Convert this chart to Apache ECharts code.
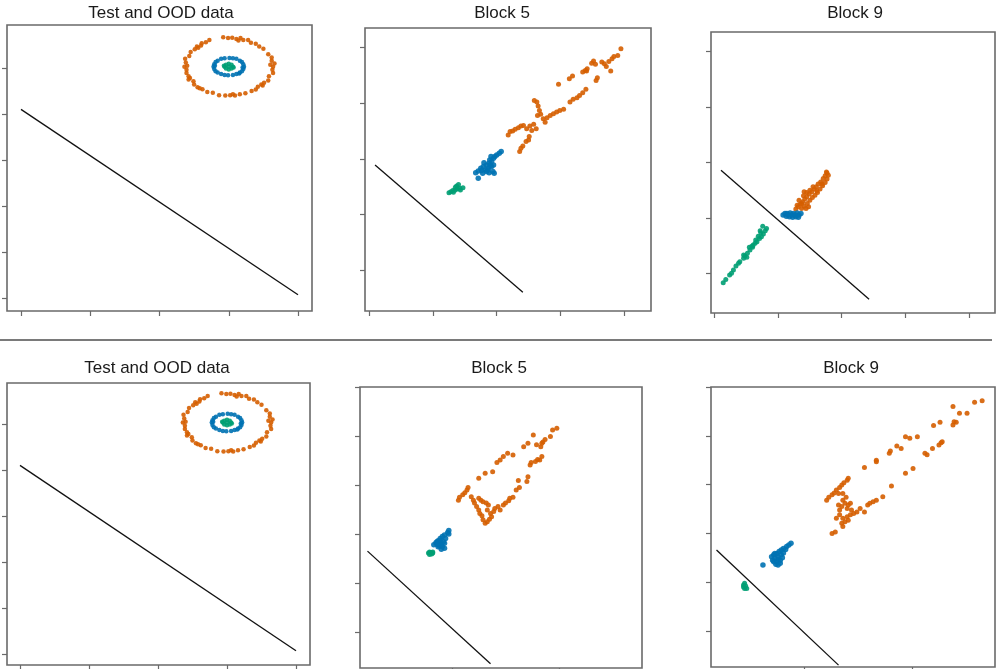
<!DOCTYPE html>
<html lang="en">
<head>
  <meta charset="UTF-8">
  <title>Test and OOD data / Block 5 / Block 9</title>
  <script src="https://cdn.jsdelivr.net/npm/echarts@6/dist/echarts.min.js"></script>
  <style>
    * { padding: 0; margin: 0; }
    #box { width: 996px; height: 669px; background: #fff; }
  </style>
</head>
<body>
  <div id="box"></div>
  <script>
    // colours: orange = OOD, blue = test, green = centre class
    var ORANGE = '#D55E00', BLUE = '#0072B2', GREEN = '#009E73';

    var titles = ['Test and OOD data', 'Block 5', 'Block 9', 'Test and OOD data', 'Block 5', 'Block 9'];

    // ---- Test and OOD data (both rows look the same) ----
    var testOrange = [
      [2.45, 5.35], [2.43, 5.26], [2.37, 5.20], [2.38, 5.12], [2.36, 5.03], [2.39, 4.96], [2.39, 4.89],
      [2.42, 4.82], [2.42, 4.75], [2.49, 4.71], [2.50, 4.64], [2.51, 5.41], [2.54, 5.47], [2.60, 5.49],
      [2.61, 5.54], [2.67, 5.56], [2.72, 5.61], [2.92, 5.67], [2.99, 5.65], [3.05, 5.66], [3.11, 5.63],
      [3.17, 5.65], [3.21, 5.61], [3.28, 5.61], [3.32, 5.55], [3.39, 5.53], [3.44, 5.47], [3.50, 5.42],
      [3.57, 5.30], [3.62, 5.23], [3.62, 5.16], [3.66, 5.10], [3.64, 5.03], [3.63, 4.96], [3.64, 4.89],
      [3.58, 4.82], [3.57, 4.73], [3.51, 4.68], [3.49, 4.62], [3.42, 4.59], [3.39, 4.53], [3.33, 4.50],
      [3.24, 4.45], [3.16, 4.43], [3.09, 4.40], [3.02, 4.41], [2.95, 4.40], [2.86, 4.41], [2.77, 4.46],
      [2.69, 4.48], [2.62, 4.54], [2.55, 4.58], [2.40, 5.05], [2.44, 4.78], [3.60, 5.07], [3.14, 5.60],
      [2.56, 5.44], [3.47, 4.64], [3.06, 4.43], [2.58, 4.56]
    ];
    var testBlue = [
      [3.22, 5.03], [3.21, 5.08], [3.19, 5.13], [3.16, 5.16], [3.11, 5.20], [3.06, 5.21], [2.94, 5.21],
      [2.89, 5.20], [2.84, 5.16], [2.81, 5.13], [2.79, 5.08], [2.78, 5.03], [2.79, 4.98], [2.81, 4.93],
      [2.84, 4.90], [2.89, 4.87], [2.94, 4.85], [3.06, 4.85], [3.11, 4.87], [3.16, 4.90], [3.19, 4.93],
      [3.21, 4.98], [3.01, 5.22], [2.99, 4.84], [3.20, 5.01], [2.80, 5.05], [3.15, 4.88]
    ];
    var testGreen = [
      [3.00, 5.03], [3.06, 5.03], [2.94, 5.03], [3.00, 5.09], [3.00, 4.97], [3.04, 5.07],
      [2.96, 5.07], [3.04, 4.99], [2.96, 4.99], [3.07, 5.01], [2.93, 5.05]
    ];
    var testLine = [[0.0, 4.1], [4.0, 0.07]];

    // ---- Block 5, top row ----
    var b5aOrange = [
      [2.36, 2.13], [2.38, 2.19], [2.41, 2.23], [2.46, 2.31], [2.50, 2.34], [2.51, 2.40], [2.18, 2.43],
      [2.21, 2.49], [2.25, 2.50], [2.29, 2.53], [2.34, 2.56], [2.38, 2.59], [2.42, 2.60], [2.47, 2.54],
      [2.52, 2.59], [2.58, 2.62], [2.62, 2.54], [2.55, 2.51], [2.59, 3.05], [2.63, 3.02], [2.65, 2.95],
      [2.67, 2.87], [2.69, 2.80], [2.64, 2.78], [2.73, 2.72], [2.79, 2.74], [2.84, 2.78], [2.89, 2.81],
      [2.94, 2.84], [2.99, 2.87], [3.05, 2.89], [2.76, 2.66], [3.15, 3.02], [3.20, 3.07], [3.26, 3.10],
      [3.30, 3.14], [3.35, 3.19], [3.40, 3.25], [3.56, 3.41], [3.58, 3.46], [2.97, 3.34], [3.14, 3.44],
      [3.19, 3.49], [3.35, 3.56], [3.39, 3.59], [3.42, 3.62], [3.49, 3.72], [3.52, 3.76], [3.55, 3.70],
      [3.65, 3.74], [3.69, 3.71], [3.72, 3.66], [3.79, 3.58], [3.81, 3.80], [3.84, 3.84], [3.90, 3.86],
      [3.95, 3.98], [3.76, 3.75], [3.41, 3.58]
    ];
    var b5aBlue = [
      [1.67, 1.75], [1.71, 1.78], [1.75, 1.83], [1.79, 1.86], [1.82, 1.80], [1.84, 1.77], [1.88, 1.75],
      [1.94, 1.77], [1.96, 1.74], [1.84, 1.89], [1.88, 1.92], [1.92, 1.95], [1.95, 2.01], [1.97, 2.04],
      [2.00, 2.07], [2.04, 2.10], [2.07, 2.13], [1.91, 2.04], [1.87, 1.83], [1.78, 1.74], [1.71, 1.65],
      [1.92, 1.86], [1.80, 1.93], [1.95, 1.89], [1.86, 1.80], [1.90, 1.88], [1.76, 1.79], [1.89, 1.98]
    ];
    var b5aGreen = [
      [1.25, 1.39], [1.28, 1.41], [1.31, 1.43], [1.35, 1.44], [1.38, 1.46], [1.42, 1.47],
      [1.47, 1.48], [1.40, 1.54], [1.37, 1.51], [1.32, 1.40], [1.43, 1.44], [1.35, 1.49]
    ];
    var b5aLine = [[0.09, 1.89], [2.41, -0.40]];

    // ---- Block 9, top row ----
    var b9aOrange = [
      [1.28, 1.16], [1.32, 1.20], [1.35, 1.25], [1.39, 1.29], [1.42, 1.34], [1.45, 1.38], [1.49, 1.43],
      [1.53, 1.47], [1.57, 1.52], [1.60, 1.56], [1.63, 1.61], [1.67, 1.65], [1.71, 1.71], [1.74, 1.76],
      [1.77, 1.81], [1.76, 1.83], [1.37, 1.17], [1.41, 1.21], [1.46, 1.26], [1.50, 1.32], [1.54, 1.37],
      [1.58, 1.41], [1.62, 1.46], [1.66, 1.52], [1.70, 1.58], [1.74, 1.64], [1.77, 1.70], [1.33, 1.32],
      [1.40, 1.40], [1.45, 1.46], [1.50, 1.50], [1.55, 1.56], [1.30, 1.23], [1.37, 1.26], [1.44, 1.17],
      [1.48, 1.20], [1.61, 1.49], [1.69, 1.61], [1.79, 1.77], [1.41, 1.47]
    ];
    var b9aBlue = [
      [1.08, 1.05], [1.13, 1.03], [1.18, 1.02], [1.23, 1.01], [1.28, 1.02], [1.33, 1.05], [1.36, 1.08],
      [1.30, 1.09], [1.24, 1.08], [1.19, 1.09], [1.14, 1.08], [1.11, 1.08], [1.22, 1.05], [1.27, 1.05],
      [1.16, 1.05], [1.32, 1.01]
    ];
    var b9aGreen = [
      [0.14, -0.17], [0.18, -0.11], [0.24, -0.03], [0.30, 0.06], [0.34, 0.13], [0.40, 0.21], [0.46, 0.27],
      [0.48, 0.31], [0.52, 0.36], [0.56, 0.42], [0.60, 0.47], [0.64, 0.54], [0.67, 0.57], [0.71, 0.63],
      [0.74, 0.66], [0.77, 0.71], [0.72, 0.77], [0.80, 0.77], [0.76, 0.85], [0.69, 0.67], [0.61, 0.51],
      [0.55, 0.47], [0.46, 0.33], [0.51, 0.29], [0.59, 0.49], [0.65, 0.60], [0.73, 0.73], [0.82, 0.81],
      [0.38, 0.18], [0.27, 0.00]
    ];
    var b9aLine = [[0.105, 1.86], [2.43, -0.47]];

    // ---- Block 5, bottom row ----
    var b5bOrange = [
      [1.06, 2.69], [1.07, 2.75], [1.10, 2.80], [1.12, 2.84], [1.14, 2.90], [1.15, 2.95], [1.18, 2.76],
      [1.20, 2.69], [1.21, 2.63], [1.23, 2.56], [1.25, 2.49], [1.26, 2.42], [1.28, 2.37], [1.29, 2.29],
      [1.31, 2.22], [1.33, 2.25], [1.25, 2.73], [1.27, 2.69], [1.29, 2.66], [1.32, 2.63], [1.34, 2.59],
      [1.33, 2.49], [1.36, 2.42], [1.37, 2.35], [1.35, 2.30], [1.39, 2.46], [1.40, 2.52], [1.43, 2.56],
      [1.45, 2.49], [1.48, 2.59], [1.50, 2.63], [1.53, 2.68], [1.54, 2.73], [1.57, 2.75], [1.60, 2.90],
      [1.63, 2.95], [1.62, 3.09], [1.70, 3.07], [1.71, 3.17], [1.73, 3.41], [1.74, 3.46], [1.78, 3.48],
      [1.80, 3.52], [1.82, 3.51], [1.84, 3.58], [1.25, 3.14], [1.31, 3.24], [1.38, 3.27], [1.42, 3.46],
      [1.45, 3.51], [1.48, 3.58], [1.52, 3.65], [1.57, 3.61], [1.67, 3.78], [1.71, 3.85], [1.76, 4.02],
      [1.79, 3.82], [1.83, 3.78], [1.85, 3.88], [1.87, 3.93], [1.92, 3.99], [1.94, 4.12], [1.98, 4.16],
      [1.84, 3.85]
    ];
    var b5bBlue = [
      [0.83, 1.78], [0.85, 1.82], [0.87, 1.86], [0.89, 1.91], [0.91, 1.95], [0.93, 1.98], [0.96, 2.03],
      [0.97, 2.07], [0.89, 1.81], [0.91, 1.74], [0.93, 1.71], [0.90, 1.69], [0.88, 1.76], [0.86, 1.84],
      [0.94, 1.91], [0.92, 1.84], [0.89, 1.86], [0.97, 2.00], [0.87, 1.74], [0.93, 1.81], [0.90, 1.78],
      [0.86, 1.79]
    ];
    var b5bGreen = [
      [0.78, 1.61], [0.80, 1.62], [0.82, 1.61], [0.79, 1.58], [0.81, 1.59], [0.79, 1.63], [0.82, 1.63]
    ];
    var b5bLine = [[0.21, 1.65], [1.36, -0.65]];

    // ---- Block 9, bottom row ----
    var b9bOrange = [
      [1.21, 2.68], [1.23, 2.74], [1.26, 2.79], [1.28, 2.83], [1.30, 2.89], [1.33, 2.94], [1.35, 2.99],
      [1.37, 3.04], [1.40, 3.09], [1.41, 3.13], [1.32, 2.58], [1.33, 2.48], [1.35, 2.55], [1.36, 2.68],
      [1.38, 2.62], [1.40, 2.51], [1.41, 2.58], [1.43, 2.62], [1.44, 2.48], [1.30, 2.31], [1.33, 2.38],
      [1.36, 2.31], [1.40, 2.34], [1.43, 2.38], [1.46, 2.41], [1.35, 2.21], [1.38, 2.24], [1.41, 2.27],
      [1.26, 2.00], [1.29, 2.03], [1.36, 2.14], [1.32, 2.82], [1.36, 2.82], [1.39, 2.74], [1.49, 2.44],
      [1.52, 2.51], [1.56, 2.44], [1.59, 2.58], [1.61, 2.62], [1.64, 2.65], [1.67, 2.68], [1.73, 2.75],
      [1.81, 2.97], [1.94, 3.23], [2.01, 3.33], [2.12, 3.64], [2.14, 3.61], [2.19, 3.74], [2.25, 3.81],
      [2.27, 3.86], [2.28, 3.88], [1.56, 3.35], [1.67, 3.50], [1.67, 3.47], [1.79, 3.64], [1.80, 3.69],
      [1.86, 3.79], [1.90, 3.74], [1.94, 3.98], [1.98, 3.95], [2.05, 3.98], [2.20, 4.21], [2.26, 4.28],
      [2.38, 4.22], [2.39, 4.29], [2.41, 4.28], [2.38, 4.60], [2.44, 4.46], [2.51, 4.46], [2.58, 4.69],
      [2.65, 4.72]
    ];
    var b9bBlue = [
      [0.62, 1.35], [0.70, 1.52], [0.72, 1.56], [0.75, 1.59], [0.77, 1.63], [0.79, 1.66], [0.81, 1.69],
      [0.84, 1.73], [0.88, 1.80], [0.71, 1.45], [0.73, 1.49], [0.75, 1.42], [0.78, 1.39], [0.74, 1.37],
      [0.76, 1.52], [0.79, 1.56], [0.81, 1.60], [0.73, 1.59], [0.78, 1.45], [0.83, 1.67], [0.86, 1.76],
      [0.76, 1.35], [0.76, 1.47], [0.72, 1.42], [0.80, 1.50]
    ];
    var b9bGreen = [[0.44, 0.94], [0.46, 0.92], [0.45, 0.87], [0.44, 0.90], [0.47, 0.87], [0.45, 0.98]];
    var b9bLine = [[0.19, 1.66], [1.32, -0.70]];

    // tick values per panel (no labels in the original)
    var xTicks = [[0, 1, 2, 3, 4], [0, 1, 2, 3, 4], [0, 1, 2, 3, 4], [0, 1, 2, 3, 4], [1, 2], [1, 2]];
    var yTicks = [[0, 1, 2, 3, 4, 5], [0, 1, 2, 3, 4], [0, 1, 2, 3, 4], [0, 1, 2, 3, 4, 5],
                  [0, 1, 2, 3, 4, 5], [0, 1, 2, 3, 4, 5]];

    var panels = [
      { o: testOrange, b: testBlue, g: testGreen, l: testLine },
      { o: b5aOrange, b: b5aBlue, g: b5aGreen, l: b5aLine },
      { o: b9aOrange, b: b9aBlue, g: b9aGreen, l: b9aLine },
      { o: testOrange, b: testBlue, g: testGreen, l: testLine },
      { o: b5bOrange, b: b5bBlue, g: b5bGreen, l: b5bLine },
      { o: b9bOrange, b: b9bBlue, g: b9bGreen, l: b9bLine }
    ];

    // layout of the six frames
    var grids = [
      { left: 7, top: 25, width: 305, height: 286 },
      { left: 365, top: 28, width: 286, height: 283 },
      { left: 711, top: 32, width: 284, height: 281 },
      { left: 7, top: 383, width: 303, height: 282 },
      { left: 360, top: 387, width: 282, height: 281 },
      { left: 711, top: 387, width: 284, height: 280 }
    ];
    var xRange = [[-0.202, 4.202], [-0.068, 4.422], [-0.052, 4.407], [-0.188, 4.203], [0.14, 2.776], [0.139, 2.769]];
    var yRange = [[-0.283, 5.935], [-0.737, 4.353], [-0.717, 4.356], [-0.239, 5.891], [-0.735, 5.0], [-0.738, 5.0]];
    var titleX = [161, 502, 855, 157, 499, 851];
    var titleY = [5, 5, 5, 360, 360, 360];

    var mCharts = echarts.init(document.getElementById('box'));

    var option = {
      animation: false,
      backgroundColor: '#fff',
      title: [],
      grid: [],
      xAxis: [],
      yAxis: [],
      series: [],
      graphic: [{
        type: 'line',
        shape: { x1: 0, y1: 340, x2: 992, y2: 340 },
        style: { stroke: '#7a7a7a', lineWidth: 2 }
      }]
    };

    for (let i = 0; i < 6; i++) {
      option.title.push({
        text: titles[i], left: titleX[i], top: titleY[i], textAlign: 'center', padding: 0,
        textStyle: { fontFamily: 'Liberation Sans, Arial, sans-serif', fontSize: 17, fontWeight: 'normal', color: '#1a1a1a' }
      });
      let g = grids[i];
      option.grid.push({
        left: g.left, top: g.top, width: g.width, height: g.height,
        show: true, borderColor: '#6a6a6a', borderWidth: 1.6, backgroundColor: '#fff'
      });
      let tickStyle = { show: true, length: 5, lineStyle: { color: '#6a6a6a', width: 1.2 } };
      option.xAxis.push({
        type: 'value', gridIndex: i, min: xRange[i][0], max: xRange[i][1],
        axisLine: { show: false, onZero: false },
        axisTick: Object.assign({}, tickStyle, { customValues: xTicks[i] }),
        axisLabel: { show: false }, splitLine: { show: false }
      });
      option.yAxis.push({
        type: 'value', gridIndex: i, min: yRange[i][0], max: yRange[i][1],
        axisLine: { show: false, onZero: false },
        axisTick: Object.assign({}, tickStyle, { customValues: yTicks[i] }),
        axisLabel: { show: false }, splitLine: { show: false }
      });
      let p = panels[i];
      let ring = (i == 0 || i == 3);
      option.series.push(
        { type: 'scatter', xAxisIndex: i, yAxisIndex: i, data: p.o, symbolSize: ring ? 4.5 : 5, itemStyle: { color: ORANGE, opacity: 0.9 } },
        { type: 'scatter', xAxisIndex: i, yAxisIndex: i, data: p.b, symbolSize: ring ? 4.5 : 5.5, itemStyle: { color: BLUE, opacity: 0.9 } },
        { type: 'scatter', xAxisIndex: i, yAxisIndex: i, data: p.g, symbolSize: ring ? 4.5 : 5, itemStyle: { color: GREEN, opacity: 0.9 } },
        { type: 'line', xAxisIndex: i, yAxisIndex: i, data: p.l, showSymbol: false, lineStyle: { color: '#111', width: 1.3 } }
      );
    }

    mCharts.setOption(option);
  </script>
</body>
</html>
